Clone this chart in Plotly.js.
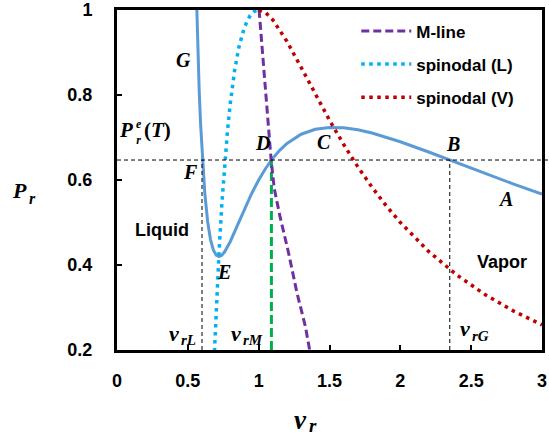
<!DOCTYPE html>
<html><head><meta charset="utf-8">
<script src="https://cdn.plot.ly/plotly-3.0.1.min.js"></script>
<style>html,body{margin:0;padding:0;background:#fff}#chart{width:549px;height:442px}</style>
</head><body><div id="chart"></div>
<script>
// Isotherm (solid blue)
const isoV = [0.55,0.56,0.57,0.58,0.59,0.60,0.62,0.64,0.66,0.68,0.70,0.72,0.74,0.76,0.78,0.80,0.85,0.90,0.95,1.00,1.05,1.10,1.15,1.20,1.30,1.40,1.50,1.60,1.70,1.80,1.90,2.00,2.20,2.40,2.60,2.80,3.00];
const isoP = [1.1595,1.0219,0.9072,0.8117,0.7324,0.6667,0.5677,0.5019,0.4598,0.4352,0.4231,0.4199,0.4231,0.4311,0.4421,0.4554,0.4930,0.5316,0.5678,0.6000,0.6277,0.6511,0.6704,0.6859,0.7077,0.7194,0.7238,0.7228,0.7180,0.7105,0.7009,0.6900,0.6659,0.6405,0.6150,0.5903,0.5667];
// Spinodal (L)
const spinLV = [0.688,0.70,0.72,0.74,0.76,0.78,0.80,0.83,0.86,0.90,0.94,0.97,1.00];
const spinLP = [0.1965,0.2915,0.4287,0.5429,0.6378,0.7165,0.7813,0.8570,0.9119,0.9602,0.9873,0.9971,1.0000];
// Spinodal (V)
const spinVV = [1.00,1.05,1.10,1.20,1.30,1.40,1.50,1.60,1.70,1.80,1.90,2.00,2.20,2.40,2.60,2.80,3.00];
const spinVP = [1.0000,0.9934,0.9767,0.9259,0.8648,0.8017,0.7407,0.6836,0.6310,0.5830,0.5394,0.5000,0.4320,0.3762,0.3300,0.2915,0.2593];
// M-line
const mLineV = [1.003,1.02,1.045,1.07,1.088,1.11,1.15,1.21,1.27,1.33,1.36];
const mLineP = [1.0,0.93,0.82,0.72,0.647,0.58,0.515,0.43,0.335,0.255,0.2];
// Equilibrium pressure and volumes
const pEquil = 0.647;
const vL = 0.60, vM = 1.09, vG = 2.349;
const pMin = 0.2;
const legendNames = ["M-line","spinodal (L)","spinodal (V)"];

const serif = (s) => ({family:"Liberation Serif", size:s, color:"#000"});
const boldSans = {family:"Liberation Sans", size:18, color:"#000"};

const traces = [
  {x:isoV, y:isoP, mode:"lines", line:{color:"#5B9BD5", width:3}, showlegend:false, hoverinfo:"skip"},
  {x:[vL,vL], y:[pMin,pEquil], mode:"lines", line:{color:"#000", width:1, dash:"4px,3px"}, showlegend:false},
  {x:[vG,vG], y:[pMin,pEquil], mode:"lines", line:{color:"#000", width:1, dash:"4px,3px"}, showlegend:false},
  {x:[vM,vM], y:[pMin,pEquil], mode:"lines", line:{color:"#00B050", width:3, dash:"9px,4px"}, showlegend:false},
  {x:mLineV, y:mLineP, mode:"lines", name:legendNames[0], line:{color:"#7030A0", width:3, dash:"8px,4px"}, legendrank:1, legendgroup:"a"},
  {x:spinLV, y:spinLP, mode:"lines", name:legendNames[1], line:{color:"#00B0F0", width:3.5, dash:"3.5px,4.5px"}, legendrank:2, legendgroup:"b"},
  {x:spinVV, y:spinVP, mode:"lines", name:legendNames[2], line:{color:"#C00000", width:3.5, dash:"3.5px,4.5px"}, legendrank:3, legendgroup:"c"}
];

// plot area in pixels: left 117, right 541, top 10, bottom 350
function px(text, x, y, size, xanchor, fontObj) {
  return {text:text, xref:"paper", yref:"paper", x:(x-117)/424, y:(350-y)/340, showarrow:false,
          xanchor:xanchor||"center", yanchor:"middle", borderpad:0, font:fontObj||serif(size)};
}
const annotations = [
  px("<b><i>G</i></b>", 183, 60, 20),
  px("<b><i>F</i></b>", 190, 172, 20),
  px("<b><i>E</i></b>", 224, 272, 20),
  px("<b><i>D</i></b>", 262, 143, 20),
  px("<b><i>C</i></b>", 324, 142, 20),
  px("<b><i>B</i></b>", 452, 144, 20),
  px("<b><i>A</i></b>", 505, 199, 20),
  px("<b>Liquid</b>", 162, 230, 0, "center", boldSans),
  px("<b>Vapor</b>", 501, 262, 0, "center", boldSans),
  // P_r^e(T)
  px("<b><i>P</i></b>", 134, 130, 21, "right"),
  px("<b><i>e</i><br><i>r</i></b>", 138.5, 132, 12),
  px("<b>(<i>T</i>)</b>", 143, 130, 21, "left"),
  // v_rL, v_rM, v_rG
  px("<b><i>v</i></b>", 180, 333.5, 22, "right"),
  px("<b><i>rL</i></b>", 180, 339.5, 15, "left"),
  px("<b><i>v</i></b>", 242, 333.5, 22, "right"),
  px("<b><i>rM</i></b>", 242, 339.5, 15, "left"),
  px("<b><i>v</i></b>", 470, 328.5, 22, "right"),
  px("<b><i>rG</i></b>", 470, 336, 15, "left"),
  // axis titles
  px("<b><i>P</i></b>", 28, 190, 22, "right"),
  px("<b><i>r</i></b>", 28, 198, 16, "left"),
  px("<b><i>v</i></b>", 308, 419.5, 27, "right"),
  px("<b><i>r</i></b>", 308, 425, 19, "left")
];

const axisCommon = {
  showgrid:false, zeroline:false, showline:true, linecolor:"#000", linewidth:3, mirror:true,
  ticks:"inside", ticklen:5, tickwidth:2, tickcolor:"#000",
  tickfont:{family:"Liberation Sans", size:18, color:"#000", weight:700}
};

const layout = {
  width:549, height:442,
  margin:{l:117, r:7, t:10, b:92},
  paper_bgcolor:"#fff", plot_bgcolor:"#fff",
  showlegend:true,
  legend:{x:0.563, y:0.99, xanchor:"left", yanchor:"top", bgcolor:"rgba(0,0,0,0)", borderwidth:0,
          font:{family:"Liberation Sans", size:17, color:"#000", weight:700}, tracegroupgap:8, itemwidth:50},
  xaxis:Object.assign({range:[0,3], dtick:0.5, tick0:0, ticklabelstandoff:12}, axisCommon),
  yaxis:Object.assign({range:[0.2,1], dtick:0.2, tick0:0.2, ticklabelstandoff:18}, axisCommon),
  shapes:[
    {type:"line", xref:"paper", yref:"y", x0:0, x1:1.02, y0:pEquil, y1:pEquil, line:{color:"#000", width:1, dash:"4px,3px"}}
  ],
  annotations:annotations
};

Plotly.newPlot("chart", traces, layout, {displayModeBar:false, staticPlot:true});
</script>
</body></html>
